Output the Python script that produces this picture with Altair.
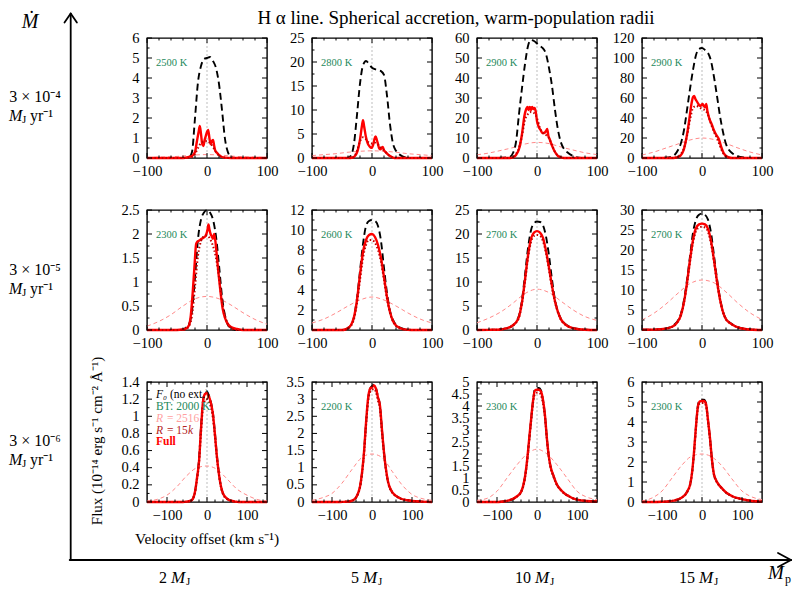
import altair as alt
import pandas as pd

FONT = "Liberation Serif"
RED = "#ff0000"
DARKRED = "#c00000"
PINK = "#ff8a8a"
GREEN = "#23895a"
GRAY = "#bdbdbd"

# ---------------- x grids ----------------
XA = [-100, -80, -60, -50, -45, -40, -35, -30, -25, -20, -15, -10, -5, 0, 5, 10, 15, 20, 25, 30, 35, 40, 45, 50, 60, 70, 80, 100]
XB = [-150, -125, -100, -90, -80, -70, -60, -50, -40, -35, -30, -25, -20, -15, -10, -5, 0, 5, 10, 15, 20, 25, 30, 35, 40, 50, 60, 70, 80, 90, 100, 125, 150]
XPA = [-100, -80, -60, -40, -20, 0, 20, 40, 60, 80, 100]
XPB = [-150, -125, -100, -75, -50, -25, 0, 25, 50, 75, 100, 125, 150]
ZERO = [0]

# ---------------- row 1: 3e-4 MJ/yr ----------------
P1_F0 = [0, 0, 0, 0, 0, 0, 0, 0.02, 0.3, 2.0, 3.8, 4.6, 4.95, 5.0, 5.05, 4.85, 4.5, 3.7, 2.4, 0.95, 0.28, 0.05, 0, 0, 0, 0, 0, 0]
P1_FULL_X = [-100, -40, -30, -25, -20, -17, -14, -12, -10, -8, -6, -4, -2, 0, 2, 4, 6, 8, 10, 12, 14, 17, 20, 25, 30, 40, 100]
P1_FULL = [0, 0, 0.05, 0.1, 0.3, 0.8, 1.3, 1.6, 1.2, 0.7, 0.6, 0.9, 1.1, 1.3, 1.4, 1.0, 0.7, 0.85, 0.9, 0.6, 0.35, 0.25, 0.15, 0.05, 0.02, 0, 0]
P1_R15K = [0, 0, 0, 0, 0, 0, 0, 0.01, 0.05, 0.2, 0.5, 0.75, 0.82, 0.85, 0.75, 0.55, 0.3, 0.12, 0.04, 0.01, 0, 0, 0, 0, 0, 0, 0, 0]
P1_R2516 = [0.02, 0.04, 0.06, 0.1, 0.15, 0.17, 0.15, 0.1, 0.06, 0.04, 0.02]

P2_F0 = [0, 0, 0, 0, 0, 0.05, 0.5, 3, 9, 15.5, 19.3, 20.2, 19.6, 18.8, 18.5, 18.3, 18.1, 17.3, 13, 7, 3, 1.5, 0.8, 0.4, 0.05, 0, 0, 0]
P2_FULL_X = [-100, -40, -32, -28, -24, -20, -17, -15, -13, -10, -7, -4, -1, 2, 4, 6, 8, 10, 12, 14, 16, 18, 20, 23, 26, 30, 35, 40, 100]
P2_FULL = [0, 0, 0.1, 0.5, 1.5, 3.8, 6.5, 7.9, 6.5, 4.3, 3.0, 2.4, 2.1, 2.8, 3.9, 4.5, 3.8, 2.9, 2.0, 1.8, 2.1, 2.3, 1.6, 1.2, 0.8, 0.4, 0.1, 0, 0]
P2_R15K = [0, 0, 0, 0, 0, 0, 0, 0.3, 1.5, 3.5, 4.3, 3.9, 3.2, 3.0, 3.2, 2.8, 2.1, 1.6, 0.9, 0.4, 0.1, 0, 0, 0, 0, 0, 0, 0]
P2_R2516 = [0.5, 0.7, 0.9, 1.2, 1.4, 1.5, 1.4, 1.2, 0.9, 0.7, 0.5]

P3_F0 = [0, 0, 0.1, 0.3, 0.6, 2.5, 8, 22, 35, 47, 56, 59, 58.5, 57.3, 56, 54.8, 52, 45, 36, 24, 14, 7.7, 4.5, 3, 1, 0.2, 0, 0]
P3_FULL_X = [-100, -45, -40, -35, -30, -25, -21, -18, -16, -14, -12, -10, -8, -6, -4, -2, 0, 3, 6, 9, 12, 15, 17, 19, 21, 25, 30, 35, 40, 45, 100]
P3_FULL = [0, 0, 0.3, 1.5, 4.5, 12, 21, 24.5, 25.5, 24, 25.5, 24, 25.5, 24.5, 25, 23, 18.5, 15.5, 14, 12.5, 12.5, 13.5, 14.5, 11, 9.5, 6.2, 3, 1, 0.3, 0, 0]
P3_R15K = [0, 0, 0, 0, 0, 0.5, 2, 5, 11, 19, 22, 23, 22.5, 20, 15, 12.5, 11.5, 10, 6.5, 3, 1.2, 0.3, 0, 0, 0, 0, 0, 0]
P3_R2516 = [1.6, 2.5, 3.8, 5.2, 7.0, 7.8, 7.2, 5.5, 4.0, 2.6, 1.7]

P4_F0 = [0, 0, 0.3, 1.5, 3.5, 8, 15, 28, 48, 69, 88, 103, 109, 110, 108, 105, 97, 81, 62, 42, 26, 14, 8, 5, 1.5, 0.4, 0.1, 0]
P4_FULL_X = [-100, -50, -45, -40, -36, -31, -26, -22, -20, -17, -15, -13, -11, -9, -7, -5, -3, -1, 1, 3, 5, 7, 9, 11, 13, 16, 19, 22, 25, 28, 32, 36, 40, 45, 50, 100]
P4_FULL = [0, 0, 0.2, 0.8, 2.3, 7.3, 20, 35, 44, 56, 61, 62, 59, 57, 55, 53, 52, 53, 54, 52, 50.7, 54, 47, 42, 38, 34, 29, 25, 22, 19, 11, 5, 2, 0.5, 0, 0]
P4_R15K = [0, 0, 0, 0, 0.3, 1.5, 4, 10, 22, 38, 50, 52, 51, 49, 48, 43, 34, 26, 20, 12, 5, 1.5, 0.3, 0, 0, 0, 0, 0]
P4_R2516 = [3, 6, 10, 14, 18, 20, 18.5, 14.5, 10, 6, 3]

# ---------------- row 2: 3e-5 MJ/yr ----------------
P5_F0 = [0, 0, 0, 0, 0, 0.01, 0.05, 0.12, 0.4, 1.1, 1.9, 2.3, 2.45, 2.5, 2.45, 2.3, 1.95, 1.35, 0.7, 0.3, 0.1, 0.03, 0.01, 0, 0, 0, 0, 0]
P5_FULL_X = [-100, -50, -40, -35, -30, -27, -24, -21, -18, -15, -12, -9, -6, -3, -1, 1, 2.5, 4, 6, 8, 10, 12, 14, 16, 19, 22, 26, 30, 35, 40, 50, 60, 100]
P5_FULL = [0, 0, 0.01, 0.03, 0.1, 0.3, 0.75, 1.3, 1.8, 1.85, 1.87, 1.9, 1.92, 1.95, 2.0, 2.1, 2.2, 2.1, 2.0, 1.95, 1.9, 2.0, 1.85, 1.6, 1.2, 0.85, 0.45, 0.25, 0.12, 0.06, 0.02, 0, 0]
P5_R15K = [0, 0, 0, 0, 0, 0, 0.02, 0.08, 0.3, 0.9, 1.55, 1.85, 1.95, 1.97, 1.9, 1.75, 1.5, 1.1, 0.6, 0.3, 0.12, 0.04, 0.01, 0, 0, 0, 0, 0]
P5_R2516 = [0.08, 0.18, 0.32, 0.5, 0.65, 0.7, 0.65, 0.52, 0.36, 0.22, 0.12]

P6_F0 = [0, 0, 0, 0, 0.05, 0.2, 0.5, 1.3, 3.2, 5.9, 8.6, 10.4, 10.9, 11.0, 10.9, 10.4, 8.9, 6.2, 3.7, 1.9, 1.0, 0.5, 0.3, 0.15, 0.03, 0, 0, 0]
P6_FULL = [0, 0, 0, 0, 0.05, 0.2, 0.5, 1.3, 3.0, 5.5, 7.8, 9.0, 9.5, 9.6, 9.3, 8.5, 7.2, 5.3, 3.3, 1.8, 0.9, 0.45, 0.25, 0.12, 0.03, 0, 0, 0]
P6_R15K = [0, 0, 0, 0, 0.04, 0.15, 0.4, 1.1, 2.7, 5.0, 7.2, 8.5, 9.0, 9.0, 8.7, 8.0, 6.8, 5.0, 3.1, 1.7, 0.85, 0.4, 0.2, 0.1, 0.02, 0, 0, 0]
P6_R2516 = [0.7, 1.1, 1.7, 2.4, 3.0, 3.3, 3.0, 2.4, 1.7, 1.1, 0.7]

P7_F0 = [0, 0.03, 0.15, 0.4, 0.65, 1.0, 1.7, 3.0, 6.3, 11.5, 17, 20.8, 22.2, 22.6, 22.5, 21.8, 19.5, 15.5, 10.5, 6.3, 3.8, 2.3, 1.5, 1.0, 0.45, 0.2, 0.05, 0]
P7_FULL = [0, 0.03, 0.1, 0.4, 0.6, 1.0, 1.6, 2.8, 5.8, 10.5, 15.5, 19.0, 20.3, 20.6, 20.3, 19.2, 16.5, 13, 9.2, 6.0, 3.7, 2.2, 1.4, 0.9, 0.4, 0.15, 0.05, 0]
P7_R15K = [0, 0.03, 0.1, 0.35, 0.55, 0.9, 1.5, 2.6, 5.5, 10, 15, 18.3, 19.6, 19.8, 19.6, 18.5, 16, 12.5, 8.8, 5.8, 3.6, 2.1, 1.3, 0.85, 0.38, 0.14, 0.05, 0]
P7_R2516 = [1.5, 2.5, 3.8, 5.6, 7.6, 8.5, 7.8, 6.0, 4.2, 2.8, 2.0]

P8_F0 = [0.05, 0.1, 0.4, 0.9, 1.5, 2.4, 4.1, 7.5, 12.5, 18.4, 24.3, 27.6, 28.8, 29.1, 28.8, 27.6, 24.3, 18.6, 12.8, 8.0, 4.6, 2.8, 2.0, 1.5, 0.7, 0.3, 0.15, 0]
P8_FULL = [0.05, 0.1, 0.35, 0.8, 1.3, 2.2, 3.8, 7.0, 11.8, 17.5, 22.5, 25.5, 26.4, 26.6, 26.4, 25.3, 22.3, 17.5, 12.2, 7.7, 4.5, 2.7, 1.9, 1.4, 0.65, 0.3, 0.12, 0]
P8_R15K = [0.05, 0.1, 0.33, 0.78, 1.25, 2.1, 3.7, 6.8, 11.4, 17, 21.8, 24.7, 25.6, 25.8, 25.6, 24.5, 21.6, 17, 11.8, 7.5, 4.4, 2.6, 1.85, 1.35, 0.63, 0.29, 0.12, 0]
P8_R2516 = [2.5, 4.2, 6.5, 9.2, 11.6, 12.5, 11.8, 9.5, 6.7, 4.3, 2.6]

# ---------------- row 3: 3e-6 MJ/yr ----------------
P9_F0 = [0, 0, 0, 0, 0, 0, 0, 0.005, 0.015, 0.04, 0.12, 0.28, 0.5, 0.88, 1.18, 1.27, 1.28, 1.24, 1.16, 1.03, 0.8, 0.53, 0.33, 0.18, 0.1, 0.04, 0.015, 0.005, 0, 0, 0, 0, 0]
P9_FULL = [0, 0, 0, 0, 0, 0, 0, 0.005, 0.015, 0.04, 0.12, 0.28, 0.47, 0.85, 1.17, 1.26, 1.27, 1.23, 1.15, 1.02, 0.78, 0.52, 0.32, 0.18, 0.1, 0.04, 0.015, 0.005, 0, 0, 0, 0, 0]
P9_R15K = [0, 0, 0, 0, 0, 0, 0, 0.005, 0.015, 0.04, 0.11, 0.26, 0.45, 0.8, 1.1, 1.18, 1.2, 1.17, 1.1, 0.97, 0.75, 0.5, 0.31, 0.17, 0.09, 0.035, 0.012, 0.004, 0, 0, 0, 0, 0]
P9_R2516 = [0.01, 0.03, 0.08, 0.18, 0.31, 0.4, 0.42, 0.38, 0.27, 0.15, 0.08, 0.03, 0.01]

P10_F0 = [0, 0, 0, 0, 0, 0.005, 0.01, 0.04, 0.13, 0.25, 0.45, 0.85, 1.45, 2.3, 3.0, 3.3, 3.38, 3.42, 3.32, 3.07, 2.82, 2.1, 1.45, 0.95, 0.6, 0.3, 0.18, 0.11, 0.07, 0.05, 0.03, 0.01, 0]
P10_FULL = [0, 0, 0, 0, 0, 0.005, 0.01, 0.04, 0.13, 0.25, 0.45, 0.85, 1.45, 2.3, 3.0, 3.3, 3.35, 3.4, 3.3, 3.05, 2.8, 2.1, 1.45, 0.95, 0.6, 0.3, 0.18, 0.11, 0.07, 0.05, 0.03, 0.01, 0]
P10_R15K = [0, 0, 0, 0, 0, 0.005, 0.01, 0.04, 0.12, 0.23, 0.42, 0.8, 1.38, 2.2, 2.9, 3.2, 3.27, 3.3, 3.2, 2.95, 2.7, 2.0, 1.4, 0.9, 0.57, 0.28, 0.17, 0.1, 0.07, 0.05, 0.03, 0.01, 0]
P10_R2516 = [0.05, 0.12, 0.25, 0.55, 0.95, 1.3, 1.4, 1.3, 0.9, 0.5, 0.22, 0.1, 0.05]

P11_F0 = [0, 0, 0, 0.01, 0.03, 0.07, 0.13, 0.24, 0.42, 0.65, 1.05, 1.7, 2.55, 3.4, 4.2, 4.72, 4.75, 4.75, 4.65, 4.25, 3.6, 2.6, 1.85, 1.4, 1.15, 0.72, 0.5, 0.34, 0.24, 0.15, 0.1, 0.04, 0.02]
P11_FULL = [0, 0, 0, 0.01, 0.03, 0.07, 0.13, 0.24, 0.42, 0.65, 1.05, 1.7, 2.55, 3.4, 4.2, 4.65, 4.68, 4.68, 4.6, 4.25, 3.6, 2.6, 1.85, 1.4, 1.15, 0.72, 0.5, 0.34, 0.24, 0.15, 0.1, 0.04, 0.02]
P11_R15K = [0, 0, 0, 0.01, 0.03, 0.07, 0.12, 0.22, 0.4, 0.6, 1.0, 1.6, 2.45, 3.3, 4.1, 4.5, 4.55, 4.55, 4.45, 4.1, 3.5, 2.55, 1.8, 1.35, 1.1, 0.7, 0.48, 0.33, 0.23, 0.15, 0.1, 0.04, 0.02]
P11_R2516 = [0.07, 0.15, 0.45, 1.0, 1.55, 2.0, 2.2, 2.0, 1.55, 1.0, 0.45, 0.2, 0.1]

P12_F0 = [0, 0, 0.01, 0.02, 0.04, 0.07, 0.13, 0.23, 0.42, 0.6, 0.85, 1.45, 2.5, 3.8, 4.85, 5.1, 5.12, 5.12, 4.95, 4.1, 3.2, 2.1, 1.37, 1.1, 0.92, 0.68, 0.48, 0.35, 0.25, 0.19, 0.14, 0.05, 0.02]
P12_FULL = [0, 0, 0.01, 0.02, 0.04, 0.07, 0.13, 0.23, 0.42, 0.6, 0.85, 1.45, 2.5, 3.8, 4.8, 5.03, 5.05, 5.05, 4.9, 4.1, 3.2, 2.1, 1.37, 1.1, 0.92, 0.68, 0.48, 0.35, 0.25, 0.19, 0.14, 0.05, 0.02]
P12_R15K = [0, 0, 0.01, 0.02, 0.04, 0.07, 0.12, 0.22, 0.4, 0.57, 0.8, 1.4, 2.4, 3.7, 4.7, 4.93, 4.95, 4.95, 4.8, 4.0, 3.1, 2.05, 1.33, 1.07, 0.9, 0.66, 0.47, 0.34, 0.24, 0.18, 0.13, 0.05, 0.02]
P12_R2516 = [0.05, 0.2, 0.55, 1.2, 1.85, 2.3, 2.4, 2.25, 1.8, 1.15, 0.55, 0.25, 0.12]

# ---------------- axes / labels ----------------
YT1 = [0, 1, 2, 3, 4, 5, 6]
YT2 = [0, 5, 10, 15, 20, 25]
YT3 = [0, 10, 20, 30, 40, 50, 60]
YT4 = [0, 20, 40, 60, 80, 100, 120]
YT5 = [0, 0.5, 1, 1.5, 2, 2.5]
YT6 = [0, 2, 4, 6, 8, 10, 12]
YT7 = [0, 5, 10, 15, 20, 25]
YT8 = [0, 5, 10, 15, 20, 25, 30]
YT9 = [0, 0.2, 0.4, 0.6, 0.8, 1, 1.2, 1.4]
YT10 = [0, 0.5, 1, 1.5, 2, 2.5, 3, 3.5]
YT11 = [0, 0.5, 1, 1.5, 2, 2.5, 3, 3.5, 4, 4.5, 5]
YT12 = [0, 1, 2, 3, 4, 5, 6]
XT = [-100, 0, 100]
TEMPS = ["2500 K", "2800 K", "2900 K", "2900 K",
         "2300 K", "2600 K", "2700 K", "2700 K",
         "", "2200 K", "2300 K", "2300 K"]
ROW_RATES = ["3 × 10⁻⁴", "3 × 10⁻⁵", "3 × 10⁻⁶"]
COL_MASSES = ["2", "5", "10", "15"]

PANELS = [
    (XA, P1_F0, P1_FULL_X, P1_FULL, XA, P1_R15K, XPA, P1_R2516, YT1, 100),
    (XA, P2_F0, P2_FULL_X, P2_FULL, XA, P2_R15K, XPA, P2_R2516, YT2, 100),
    (XA, P3_F0, P3_FULL_X, P3_FULL, XA, P3_R15K, XPA, P3_R2516, YT3, 100),
    (XA, P4_F0, P4_FULL_X, P4_FULL, XA, P4_R15K, XPA, P4_R2516, YT4, 100),
    (XA, P5_F0, P5_FULL_X, P5_FULL, XA, P5_R15K, XPA, P5_R2516, YT5, 100),
    (XA, P6_F0, XA, P6_FULL, XA, P6_R15K, XPA, P6_R2516, YT6, 100),
    (XA, P7_F0, XA, P7_FULL, XA, P7_R15K, XPA, P7_R2516, YT7, 100),
    (XA, P8_F0, XA, P8_FULL, XA, P8_R15K, XPA, P8_R2516, YT8, 100),
    (XB, P9_F0, XB, P9_FULL, XB, P9_R15K, XPB, P9_R2516, YT9, 150),
    (XB, P10_F0, XB, P10_FULL, XB, P10_R15K, XPB, P10_R2516, YT10, 150),
    (XB, P11_F0, XB, P11_FULL, XB, P11_R15K, XPB, P11_R2516, YT11, 150),
    (XB, P12_F0, XB, P12_FULL, XB, P12_R15K, XPB, P12_R2516, YT12, 150),
]

W = 120
H = 120
ONE = pd.DataFrame({"d": [0]})


def txt(x, y, s, size, color="black", align="center", **kw):
    return alt.Chart(ONE).mark_text(font=FONT, fontSize=size, color=color, align=align,
                                    baseline="middle", **kw).encode(
        x=alt.value(x), y=alt.value(y), text=alt.value(s))


def seg(x1, y1, x2, y2, w=1.8):
    return alt.Chart(ONE).mark_rule(color="black", strokeWidth=w, strokeCap="round").encode(
        x=alt.value(x1), y=alt.value(y1), x2=alt.value(x2), y2=alt.value(y2))


def make_panel(i, spec):
    fx, fy, ux, uy, rx, ry, px, py, yt, xlim = spec
    xs = alt.Scale(domain=[-xlim, xlim], nice=False, zero=False)
    ys = alt.Scale(domain=[yt[0], yt[-1]], nice=False, zero=False)
    xax = alt.Axis(values=XT, format="~f", title=None, grid=False, domain=False, ticks=False,
                   tickSize=0, labelPadding=6, labelFont=FONT, labelFontSize=14.5,
                   labelColor="black", labelFlush=False, labelOverlap=False)
    yax = alt.Axis(values=yt, format="~f", title=None, grid=False, domain=False, ticks=False,
                   tickSize=0, labelPadding=8, labelFont=FONT, labelFontSize=14.5,
                   labelColor="black", labelOverlap=False)

    def X():
        return alt.X("x:Q", scale=xs, axis=xax)

    def Y():
        return alt.Y("y:Q", scale=ys, axis=yax)

    def line(xv, yv, **kw):
        return alt.Chart(pd.DataFrame({"x": xv, "y": yv})).mark_line(
            interpolate="monotone", **kw).encode(x=X(), y=Y())

    layers = [
        alt.Chart(pd.DataFrame({"x": ZERO})).mark_rule(
            color=GRAY, strokeDash=[2, 2], strokeWidth=1).encode(x=X()),
        line(px, py, color=PINK, strokeDash=[4, 3], strokeWidth=1),
        line(fx, fy, color="black", strokeDash=[7, 4], strokeWidth=1.9),
        line(ux, uy, color=RED, strokeWidth=2.4),
        line(rx, ry, color=DARKRED, strokeDash=[1.5, 2.2], strokeWidth=2),
    ]
    # inward ticks on all four sides
    xminor = [v for v in range(-140, 141, 20) if abs(v) <= xlim and v not in XT]
    yminor = [(a + b) / 2 for a, b in zip(yt[:-1], yt[1:])]
    for vals, L in ((XT, 5), (xminor, 2.5)):
        d = pd.DataFrame({"x": vals})
        layers.append(alt.Chart(d).mark_rule(color="black", strokeWidth=1).encode(
            x=X(), y=alt.value(H), y2=alt.value(H - L)))
        layers.append(alt.Chart(d).mark_rule(color="black", strokeWidth=1).encode(
            x=X(), y=alt.value(0), y2=alt.value(L)))
    for vals, L in ((yt, 5), (yminor, 2.5)):
        d = pd.DataFrame({"y": vals})
        layers.append(alt.Chart(d).mark_rule(color="black", strokeWidth=1).encode(
            y=Y(), x=alt.value(0), x2=alt.value(L)))
        layers.append(alt.Chart(d).mark_rule(color="black", strokeWidth=1).encode(
            y=Y(), x=alt.value(W), x2=alt.value(W - L)))

    if TEMPS[i]:
        layers.append(txt(9, 25, TEMPS[i], 10.5, color=GREEN, align="left"))

    if i == 8:
        # legend and axis titles of the lower-left panel
        layers += [
            txt(9, 13, "F₀", 11.5, align="left", fontStyle="italic"),
            txt(23, 13, "(no ext.)", 11.5, align="left"),
            txt(9, 25, "BT: 2000 K", 11.5, color=GREEN, align="left"),
            txt(9, 37, "R", 11.5, color="#ff9f9f", align="left", fontStyle="italic"),
            txt(20, 37, "= 2516", 11.5, color="#ff9f9f", align="left"),
            txt(9, 49, "R", 11.5, color="#b22222", align="left", fontStyle="italic"),
            txt(20, 49, "= 15", 11.5, color="#b22222", align="left"),
            txt(41, 49, "k", 11.5, color="#b22222", align="left", fontStyle="italic"),
            txt(9, 60, "Full", 11.5, color=RED, align="left", fontWeight="bold"),
            txt(-50, 59, "Flux (10⁻¹⁴ erg s⁻¹ cm⁻² Å⁻¹)", 15, angle=270),
            txt(60, 157, "Velocity offset (km s⁻¹)", 15.5),
        ]

    if i == 0:
        # global decorations, placed relative to the first panel
        layers += [
            txt(309, -20, "H α line. Spherical accretion, warm-population radii", 19),
            txt(-117, -16, "Ṁ", 20, fontStyle="italic"),
            seg(-76.3, -24, -76.3, 522),
            seg(-82.5, -15.5, -76.3, -24.5),
            seg(-70.1, -15.5, -76.3, -24.5),
            seg(-77.3, 522, 644, 522),
            seg(631, 515, 644, 522),
            seg(631, 529, 644, 522),
            txt(621, 535, "M", 19, align="left", fontStyle="italic"),
            txt(638, 541, "p", 12, align="left"),
        ]
        for r, (rate, y1) in enumerate(zip(ROW_RATES, [59, 232, 403])):
            y2 = y1 + 19
            layers += [
                txt(-112, y1, rate, 16),
                txt(-138, y2, "M", 16, align="left", fontStyle="italic"),
                txt(-125, y2 + 4, "J", 11, align="left"),
                txt(-117, y2, "yr⁻¹", 16, align="left"),
            ]
        for m, nr in zip(COL_MASSES, [20, 212, 384, 548]):
            layers += [
                txt(nr, 540, m, 16, align="right"),
                txt(nr + 4, 540, "M", 17, align="left", fontStyle="italic"),
                txt(nr + 19, 544, "J", 11, align="left"),
            ]

    return alt.layer(*layers).properties(width=W, height=H)


charts = [make_panel(i, s) for i, s in enumerate(PANELS)]

chart = alt.concat(
    *charts, columns=4, spacing={"row": 52, "column": 45}, bounds="flush"
).properties(padding=0).configure_view(stroke="black", strokeWidth=1.4)

chart.save("out.html", embed_options={"renderer": "svg", "actions": False})
